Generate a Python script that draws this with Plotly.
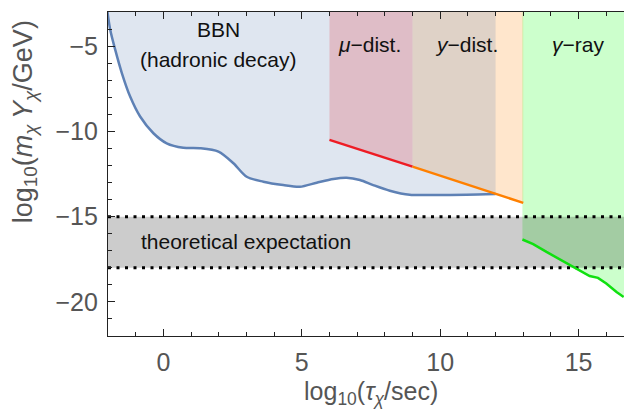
import plotly.graph_objects as go

# ---------------- data ----------------
x_min, x_max = -2.0, 16.64
y_min, y_max = -22.0, -3.0

# BBN (hadronic decay) bound
bbn_tau = [-2.02, -1.92, -1.74, -1.5, -1.2, -0.84, -0.36, 0.12, 0.72, 1.32, 1.99, 2.53,
           3.01, 3.61, 4.33, 4.93, 5.54, 6.14, 6.62, 7.1, 7.58, 8.18, 8.9, 9.75, 10.95, 12.0]
bbn_y = [-3.0, -4.04, -5.21, -6.58, -7.96, -9.13, -10.11, -10.70, -10.96, -10.99, -11.19, -11.87,
         -12.66, -12.95, -13.15, -13.25, -13.01, -12.79, -12.72, -12.85, -13.15, -13.48, -13.72,
         -13.73, -13.72, -13.68]

# mu-distortion bound
mu_tau = [6.0, 9.0]
mu_y = [-10.5, -12.07]

# y-distortion bound
ydist_tau = [9.0, 13.0]
ydist_y = [-12.07, -14.19]

# gamma-ray bound
gamma_tau = [12.97, 13.36, 13.84, 14.32, 14.8, 15.4, 15.7, 16.0, 16.37, 16.63]
gamma_y = [-16.34, -16.61, -17.07, -17.51, -17.95, -18.48, -18.59, -18.92, -19.42, -19.71]

# theoretical expectation band
band_lo, band_hi = -18.0, -15.0

x_ticks = [0, 5, 10, 15]
y_ticks = [-20, -15, -10, -5]

FONT = "Liberation Sans, Arial, sans-serif"

fig = go.Figure()

def region(xs, ys, color):
    fig.add_trace(go.Scatter(x=xs, y=ys, mode="lines", fill="toself", fillcolor=color,
                             line=dict(width=0), hoverinfo="skip", showlegend=False))

# colored regions (drawn under the BBN fill)
region([mu_tau[0], mu_tau[1], mu_tau[1], mu_tau[0]], [mu_y[0], mu_y[1], y_max, y_max],
       "rgba(255,0,0,0.2)")
region([ydist_tau[0], ydist_tau[1], ydist_tau[1], ydist_tau[0]],
       [ydist_y[0], ydist_y[1], y_max, y_max], "rgba(255,128,0,0.2)")
region(gamma_tau + [x_max + 0.5, gamma_tau[0]], gamma_y + [y_max, y_max], "rgba(0,255,0,0.2)")

# BBN fill (between top edge and curve)
fig.add_trace(go.Scatter(x=[bbn_tau[0], bbn_tau[-1]], y=[y_max, y_max], mode="lines",
                         line=dict(width=0), hoverinfo="skip", showlegend=False))
fig.add_trace(go.Scatter(x=bbn_tau, y=bbn_y, mode="lines", fill="tonexty",
                         fillcolor="rgba(94,129,181,0.2)",
                         line=dict(color="#5e81b5", width=2.5, shape="spline", smoothing=0.8),
                         hoverinfo="skip", showlegend=False))

# theoretical band
region([x_min - 1, x_max + 1, x_max + 1, x_min - 1], [band_hi, band_hi, band_lo, band_lo],
       "rgba(0,0,0,0.2)")
for yb in (band_hi, band_lo):
    fig.add_trace(go.Scatter(x=[x_min, x_max], y=[yb, yb], mode="lines",
                             line=dict(color="black", width=3, dash="3px,5.5px"),
                             hoverinfo="skip", showlegend=False))

# bound lines
fig.add_trace(go.Scatter(x=mu_tau, y=mu_y, mode="lines", line=dict(color="#ee1c24", width=2.5),
                         hoverinfo="skip", showlegend=False))
fig.add_trace(go.Scatter(x=ydist_tau, y=ydist_y, mode="lines", line=dict(color="#ff8000", width=2.5),
                         hoverinfo="skip", showlegend=False))
fig.add_trace(go.Scatter(x=gamma_tau, y=gamma_y, mode="lines", line=dict(color="#10e010", width=2.5),
                         hoverinfo="skip", showlegend=False))

txt = dict(family=FONT, size=21, color="#111111")
ann = [
    dict(x=1.98, y=-4.04, text="BBN"),
    dict(x=1.98, y=-5.80, text="(hadronic decay)"),
    dict(x=7.46, y=-4.92, text="<i>μ</i>−dist."),
    dict(x=10.95, y=-4.92, text="<i>y</i>−dist."),
    dict(x=14.98, y=-4.92, text="<i>γ</i>−ray"),
    dict(x=3.0, y=-16.44, text="theoretical expectation"),
]
for a in ann:
    fig.add_annotation(x=a["x"], y=a["y"], text=a["text"], showarrow=False, font=txt,
                       xanchor="center", yanchor="middle")

title_font = dict(family=FONT, size=26, color="#555555")
fig.add_annotation(xref="paper", yref="paper", x=0.51, y=-0.177,
                   text="log<sub>10</sub>(<i>τ</i><sub><i>χ</i></sub>/sec)",
                   showarrow=False, font=dict(family=FONT, size=25, color="#555555"),
                   xanchor="center", yanchor="middle")
fig.add_annotation(xref="paper", yref="paper", x=-0.162, y=0.661,
                   text="log<sub>10</sub>(<i>m</i><sub><i>χ</i></sub>\u2009<i>Y</i><sub><i>χ</i></sub>/GeV)",
                   showarrow=False, font=dict(family=FONT, size=27, color="#555555"), textangle=-90,
                   xanchor="center", yanchor="middle")

tickfont = dict(family=FONT, size=25, color="#555555")
fig.update_xaxes(range=[x_min, x_max], tickmode="array", tickvals=x_ticks,
                 ticktext=[str(v) for v in x_ticks],
                 ticks="inside", ticklen=7, tickwidth=1, tickcolor="#222",
                 showline=True, linecolor="#222", linewidth=1.2, mirror="ticks",
                 showgrid=False, zeroline=False, tickfont=tickfont, ticklabelstandoff=4,
                 minor=dict(tickmode="linear", tick0=0, dtick=1, ticks="inside", ticklen=4,
                            tickcolor="#222", showgrid=False))
fig.update_yaxes(range=[y_min, y_max], tickmode="array", tickvals=y_ticks,
                 ticktext=["−%d" % abs(v) for v in y_ticks],
                 ticks="inside", ticklen=7, tickwidth=1, tickcolor="#222",
                 showline=True, linecolor="#222", linewidth=1.2, mirror=False,
                 showgrid=False, zeroline=False, tickfont=tickfont, ticklabelstandoff=4,
                 minor=dict(tickmode="linear", tick0=0, dtick=1, ticks="inside", ticklen=4,
                            tickcolor="#222", showgrid=False))

fig.update_layout(width=624, height=410, margin=dict(l=108, r=0, t=12, b=74),
                  plot_bgcolor="white", paper_bgcolor="white", showlegend=False)

fig.write_html("out.html")
